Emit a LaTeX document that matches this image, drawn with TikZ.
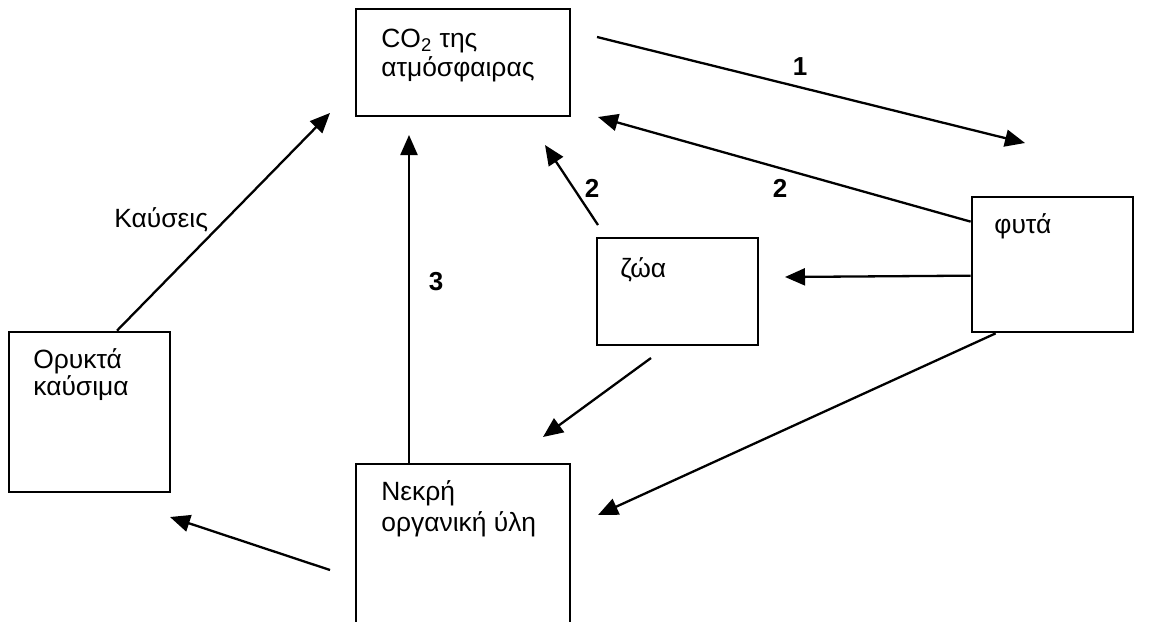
\documentclass[tikz,border=0pt]{standalone}
\usepackage{fontspec}
\setmainfont{Liberation Sans}
\usetikzlibrary{arrows.meta,calc}
\begin{document}
\begin{tikzpicture}[x=0.5pt,y=-0.5pt,
  box/.style={draw, line width=1.35pt, rectangle, inner sep=0pt},
  lbl/.style={anchor=base west, inner sep=0pt, align=left,
    font=\fontsize{13.2}{14}\selectfont},
  num/.style={inner sep=0pt, font=\fontsize{13}{15}\selectfont\bfseries},
  flow/.style={line width=1.15pt, -{Triangle[length=10pt,width=8.5pt]}},
]
\clip (0,0) rectangle (1172,621);
\fill[white] (0,0) rectangle (1172,621);

% compartments of the carbon cycle
\node[box, minimum width=107pt, minimum height=53.5pt] (co2) at (463,62.5) {};
\node[box, minimum width=80.5pt, minimum height=67.5pt] (phyta) at (1052.5,264.5) {};
\node[box, minimum width=80.5pt, minimum height=53.5pt] (zoa) at (677.5,291.5) {};
\node[box, minimum width=80.5pt, minimum height=80pt] (oryk) at (89.5,412) {};
\node[box, minimum width=107pt, minimum height=108pt] (nekri) at (463,572) {};

% box texts (base anchor sits on the last line)
\node[lbl] (co2-t) at (381,76) {CO\textsubscript{2} της\\[0.5pt]ατμόσφαιρας};
\node[lbl] (phyta-t) at (994,233) {φυτά};
\node[lbl] (zoa-t) at (620,277) {ζώα};
\node[lbl] (oryk-t) at (33,395) {Ορυκτά\\[-0.5pt]καύσιμα};
\node[lbl] (nekri-t) at (381,531) {Νεκρή\\[1.5pt]οργανική ύλη};

% free ends of the arrows
\coordinate (a1s) at (597,37);
\coordinate (a1e) at (1025,143);
\coordinate (a2e) at (598,117);
\coordinate (a3s) at (598,225);
\coordinate (a3e) at (545,145);
\coordinate (a4e) at (785,277);
\coordinate (a5e) at (598,515);
\coordinate (a6s) at (651,358);
\coordinate (a6e) at (543,437);
\coordinate (a7e) at (409,135);
\coordinate (a8s) at (330,570);
\coordinate (a8e) at (170,517);
\coordinate (a9e) at (330,113);

% flows
\draw[flow] (a1s) -- (a1e);
\draw[flow] ($(phyta.north west)+(0,26)$) -- (a2e);
\draw[flow] (a3s) -- (a3e);
\draw[flow] ($(phyta.north west)+(0,80)$) -- (a4e);
\draw[flow] ($(phyta.south west)+(25,0)$) -- (a5e);
\draw[flow] (a6s) -- (a6e);
\draw[flow] ($(nekri.north)+(-54,0)$) -- (a7e);
\draw[flow] (a8s) -- (a8e);
\draw[flow] ($(oryk.north)+(27.5,0)$) -- (a9e);

% flow labels
\node[num] (n1) at (800,67) {1};
\node[num] (n2a) at (780,188) {2};
\node[num] (n2b) at (592,188) {2};
\node[num] (n3) at (436,282) {3};
\node[lbl] (kaus) at (114,227) {Καύσεις};
\end{tikzpicture}
\end{document}
